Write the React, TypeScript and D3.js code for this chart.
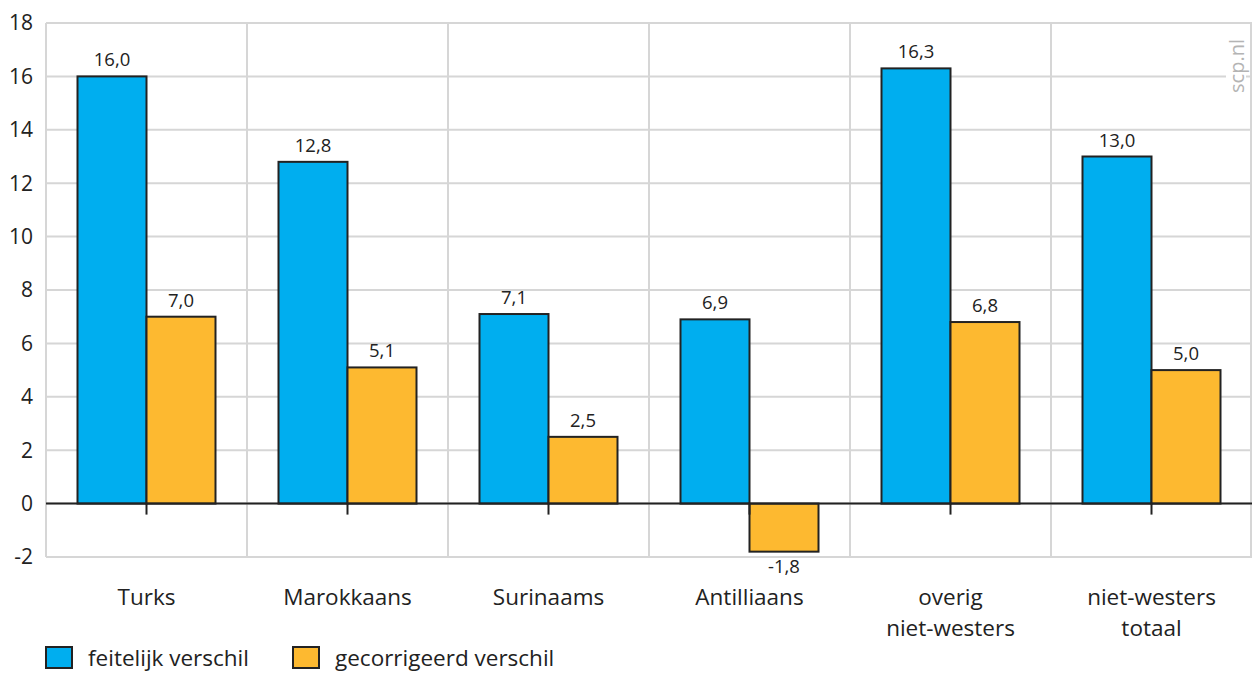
import { useEffect, useRef } from "react";
import * as d3 from "d3";

const categories = ["Turks", "Marokkaans", "Surinaams", "Antilliaans", "overig\nniet-westers", "niet-westers\ntotaal"];
const feitelijk = [16.0, 12.8, 7.1, 6.9, 16.3, 13.0];
const gecorrigeerd = [7.0, 5.1, 2.5, -1.8, 6.8, 5.0];
const seriesNames = ["feitelijk verschil", "gecorrigeerd verschil"];
const seriesColors = ["#00aeef", "#fdb930"];
const yTicks = [-2, 0, 2, 4, 6, 8, 10, 12, 14, 16, 18];

const W = 1252;
const H = 673;
const FONT = "'Open Sans', 'Noto Sans', sans-serif";

export default function App() {
  const svgRef = useRef<SVGSVGElement>(null);

  useEffect(() => {
    if (!svgRef.current) return;
    const svg = d3.select(svgRef.current);
    svg.selectAll("*").remove();

    const margin = { left: 46, right: 0, top: 23, bottom: 116 };

    const x = d3
      .scaleBand<number>()
      .domain(d3.range(categories.length))
      .range([margin.left, W - margin.right]);

    const y = d3
      .scaleLinear()
      .domain([-2, 18])
      .range([H - margin.bottom, margin.top]);

    const groupPad = 31.5;
    const x1 = d3
      .scaleBand<number>()
      .domain([0, 1])
      .range([groupPad, x.bandwidth() - groupPad]);

    // grid
    const grid = svg.append("g").attr("stroke", "#d6d6d6").attr("stroke-width", 2);
    yTicks.forEach((t) => {
      grid
        .append("line")
        .attr("x1", margin.left)
        .attr("x2", W - margin.right)
        .attr("y1", y(t))
        .attr("y2", y(t));
    });
    d3.range(categories.length + 1).forEach((i) => {
      const xx = i < categories.length ? x(i)! : W - margin.right - 1;
      grid
        .append("line")
        .attr("x1", xx)
        .attr("x2", xx)
        .attr("y1", y(18))
        .attr("y2", y(-2));
    });

    // watermark
    svg
      .append("rect")
      .attr("x", 1226)
      .attr("y", 36)
      .attr("width", 20)
      .attr("height", 60)
      .attr("fill", "#fff");
    svg
      .append("text")
      .attr("transform", `translate(1244,66) rotate(-90)`)
      .attr("text-anchor", "middle")
      .attr("font-family", FONT)
      .attr("font-size", 20)
      .attr("fill", "#b4b4b4")
      .text("scp.nl");

    // y tick labels
    svg
      .append("g")
      .selectAll("text")
      .data(yTicks)
      .join("text")
      .attr("x", 33)
      .attr("y", (d) => y(d))
      .attr("dy", "0.35em")
      .attr("text-anchor", "end")
      .attr("font-family", FONT)
      .attr("font-size", 21)
      .attr("fill", "#222")
      .text((d) => String(d));

    const fmt = (v: number) => v.toFixed(1).replace(".", ",");
    const seriesData = [feitelijk, gecorrigeerd];

    // bars
    seriesData.forEach((vals, s) => {
      const g = svg.append("g");
      g.selectAll("rect")
        .data(vals)
        .join("rect")
        .attr("x", (_, i) => x(i)! + x1(s)!)
        .attr("y", (d) => y(Math.max(0, d)))
        .attr("width", x1.bandwidth())
        .attr("height", (d) => Math.abs(y(d) - y(0)))
        .attr("fill", seriesColors[s])
        .attr("stroke", "#222")
        .attr("stroke-width", 2);
      g.selectAll("text")
        .data(vals)
        .join("text")
        .attr("x", (_, i) => x(i)! + x1(s)! + x1.bandwidth() / 2)
        .attr("y", (d) => (d >= 0 ? y(d) - 10 : y(d) + 21))
        .attr("text-anchor", "middle")
        .attr("font-family", FONT)
        .attr("font-size", 18.5)
        .attr("fill", "#222")
        .text((d) => fmt(d));
    });

    // zero axis + ticks
    svg
      .append("line")
      .attr("x1", margin.left)
      .attr("x2", W - margin.right)
      .attr("y1", y(0))
      .attr("y2", y(0))
      .attr("stroke", "#222")
      .attr("stroke-width", 2);
    svg
      .append("g")
      .selectAll("line")
      .data(d3.range(categories.length))
      .join("line")
      .attr("x1", (i) => x(i)! + x.bandwidth() / 2)
      .attr("x2", (i) => x(i)! + x.bandwidth() / 2)
      .attr("y1", y(0))
      .attr("y2", y(0) + 11)
      .attr("stroke", "#222")
      .attr("stroke-width", 2);

    // category labels
    categories.forEach((c, i) => {
      const t = svg
        .append("text")
        .attr("x", x(i)! + x.bandwidth() / 2)
        .attr("y", 605)
        .attr("text-anchor", "middle")
        .attr("font-family", FONT)
        .attr("font-size", 22.5)
        .attr("fill", "#222");
      c.split("\n").forEach((line, k) => {
        t.append("tspan")
          .attr("x", x(i)! + x.bandwidth() / 2)
          .attr("dy", k === 0 ? 0 : 31)
          .text(line);
      });
    });

    // legend
    const legendX = [46, 293];
    seriesNames.forEach((n, s) => {
      svg
        .append("rect")
        .attr("x", legendX[s])
        .attr("y", 647)
        .attr("width", 26)
        .attr("height", 21)
        .attr("fill", seriesColors[s])
        .attr("stroke", "#222")
        .attr("stroke-width", 2);
      svg
        .append("text")
        .attr("x", legendX[s] + 42)
        .attr("y", 666)
        .attr("font-family", FONT)
        .attr("font-size", 22.5)
        .attr("fill", "#222")
        .text(n);
    });
  }, []);

  return (
    <svg
      ref={svgRef}
      width={W}
      height={H}
      style={{ display: "block", position: "absolute", left: 0, top: 0, background: "#fff" }}
    />
  );
}
